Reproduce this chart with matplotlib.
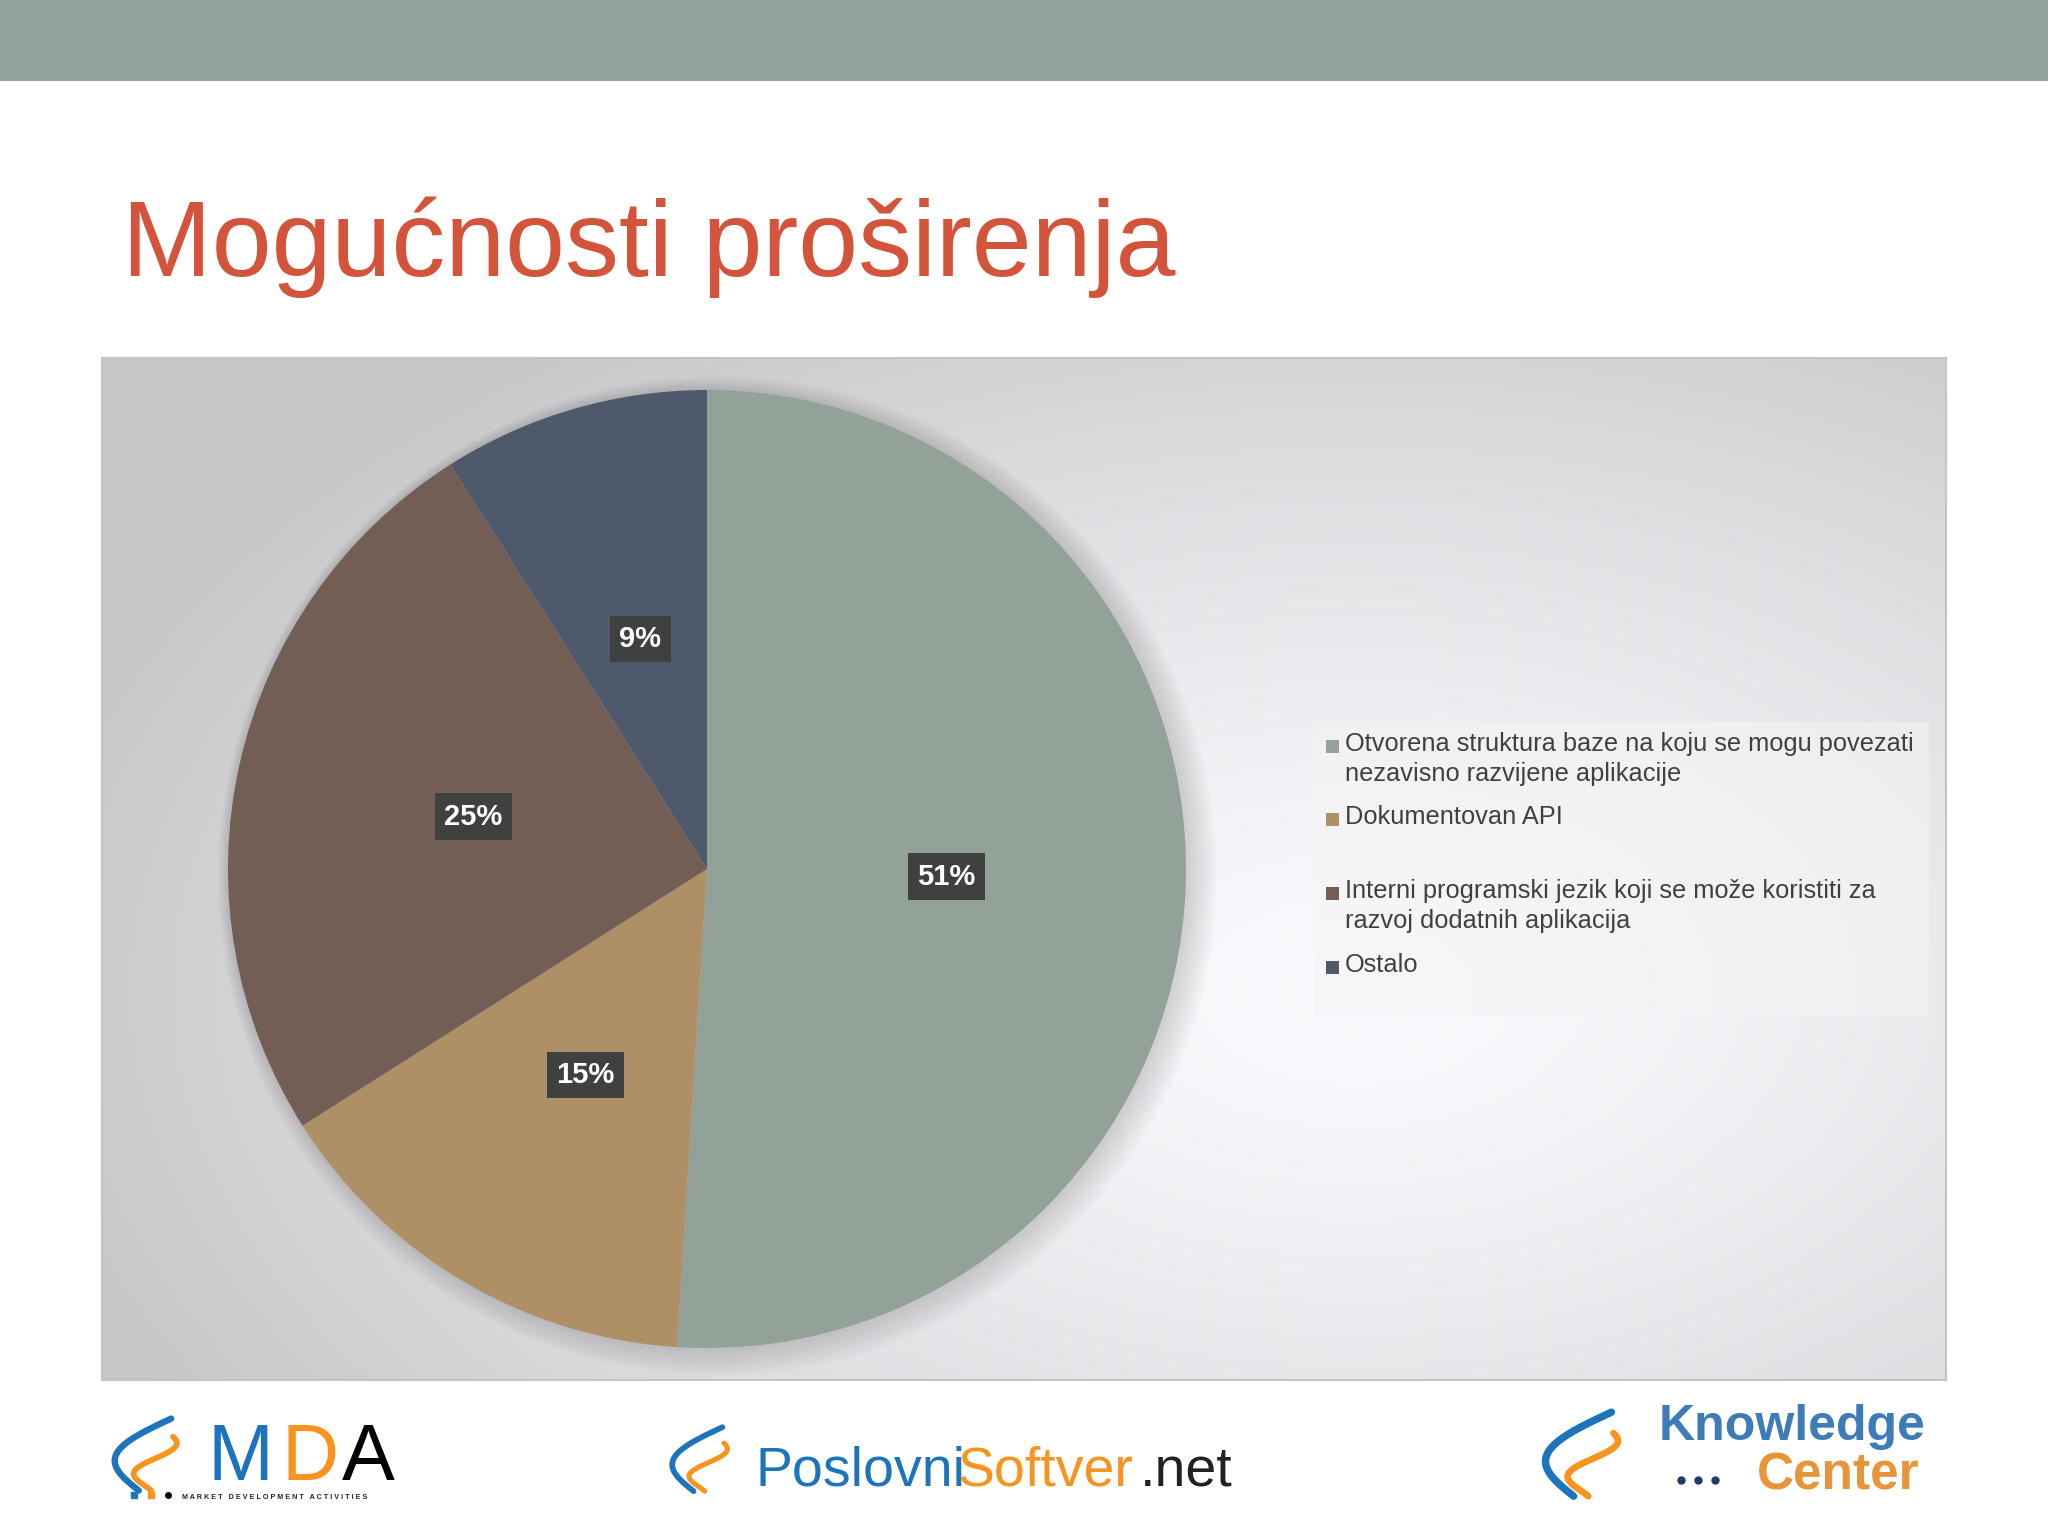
import numpy as np
import matplotlib.pyplot as plt
from matplotlib.patches import Rectangle, Circle

# data
categories = [
    "Otvorena struktura baze na koju se mogu povezati\nnezavisno razvijene aplikacije",
    "Dokumentovan API",
    "Interni programski jezik koji se može koristiti za\nrazvoj dodatnih aplikacija",
    "Ostalo",
]
shares = [51, 15, 25, 9]
colors = ["#93A299", "#AE8F66", "#725E54", "#4E5A6B"]
title = "Mogućnosti proširenja"

W, H = 2048, 1536
plt.rcParams['font.family'] = ['Liberation Sans', 'DejaVu Sans']

fig = plt.figure(figsize=(W / 100, H / 100), dpi=100)
fig.patch.set_facecolor("white")


def box(x0, y0, x1, y1):
    # pixel box (top-left origin) -> figure fraction rect
    return [x0 / W, 1 - y1 / H, (x1 - x0) / W, (y1 - y0) / H]


def fx(x):
    return x / W


def fy(y):
    return 1 - y / H


# top banner
fig.patches.append(Rectangle((0, fy(81)), 1, 81 / H, transform=fig.transFigure,
                             fc="#93A29A", ec="none"))

# title
fig.text(fx(122), fy(276), title, fontsize=77.5, color="#D3543B", va="baseline")

# chart area with radial gradient
bg = fig.add_axes(box(102, 358, 1946, 1380))
gx, gy = np.meshgrid(np.linspace(0, 1, 400), np.linspace(0, 1, 220))
d = np.sqrt(((gx - 0.68) / 0.75) ** 2 + ((gy - 0.62) / 0.8) ** 2)
shade = 1 - 0.21 * np.clip(d, 0, 1) ** 1.3
bg.imshow(np.dstack([shade * 0.985, shade * 0.985, shade]).clip(0, 1),
          aspect="auto", extent=(0, 1, 0, 1), origin="upper", interpolation="bicubic")
bg.set_xlim(0, 1)
bg.set_ylim(0, 1)
bg.set_xticks([])
bg.set_yticks([])
for s in bg.spines.values():
    s.set_edgecolor("#C4C4C4")
    s.set_linewidth(1.5)

# pie
cx, cy, R = 707, 869, 479
m = 1.08
ax = fig.add_axes(box(cx - R * m, cy - R * m, cx + R * m, cy + R * m))
ax.set_facecolor("none")
for k in range(8):
    ax.add_patch(Circle((0.003 * k, -0.002 * k), 1.0 + 0.006 * k, fc="#606060",
                        alpha=0.035, ec="none", zorder=0))
wedges, texts, autotexts = ax.pie(
    shares, colors=colors, startangle=90, counterclock=False, radius=1,
    autopct="%d%%", pctdistance=0.5,
    wedgeprops=dict(linewidth=0),
    textprops=dict(color="white", fontsize=21, fontweight="bold"),
)
for t in autotexts:
    t.set_bbox(dict(boxstyle="square,pad=0.32", fc="#3F413E", ec="none"))
ax.set_xlim(-m, m)
ax.set_ylim(-m, m)
ax.set_aspect("equal")
ax.axis("off")

# legend
fig.patches.append(Rectangle((fx(1314), fy(1016)), (1929 - 1314) / W, (1016 - 722) / H,
                             transform=fig.transFigure, fc="#F4F4F6", ec="none", alpha=0.6))
rows = [746, 819, 893, 967]
for lab, col, yy in zip(categories, colors, rows):
    fig.patches.append(Rectangle((fx(1326), fy(yy + 7)), 13 / W, 13 / H,
                                 transform=fig.transFigure, fc=col, ec="none"))
    fig.text(fx(1345), fy(yy - 14), lab, fontsize=18.3, color="#404040",
             va="top", ha="left", linespacing=1.3)

# footer logos (text approximations, icon drawn as curves)
blue, orange = "#1C75BC", "#F7941D"
deco = fig.add_axes([0, 0, 1, 1], zorder=5)
deco.set_xlim(0, W)
deco.set_ylim(H, 0)
deco.axis("off")
deco.set_facecolor("none")


def icon(x0, y0, s):
    # stylised swoosh mark: blue curve and orange S, scaled from a unit box
    t = np.linspace(0, 1, 60)
    bx = x0 + s * (0.85 - 0.9 * np.sin(np.pi * t) * 0.6 - 0.45 * t)
    by = y0 + s * (0.05 + 1.0 * t)
    deco.plot(bx, by, color=blue, lw=4.5 * s / 70, solid_capstyle="round")
    sx = x0 + s * (0.75 + 0.22 * np.sin(2 * np.pi * t + 0.6) - 0.3 * t)
    sy = y0 + s * (0.3 + 0.75 * t)
    deco.plot(sx, sy, color=orange, lw=4 * s / 70, solid_capstyle="round")


icon(110, 1415, 72)
fig.text(fx(208), fy(1480), "M", fontsize=57, color=blue, va="baseline")
fig.text(fx(282), fy(1480), "D", fontsize=57, color=orange, va="baseline")
fig.text(fx(342), fy(1480), "A", fontsize=57, color="black", va="baseline")
for i, c in enumerate([blue, orange, "black"]):
    deco.plot(134 + 17 * i, 1495, "s" if i < 2 else "o", color=c, ms=4)
fig.text(fx(182), fy(1499), "M A R K E T   D E V E L O P M E N T   A C T I V I T I E S",
         fontsize=5.2, color="#222222", va="baseline", fontweight="bold")

# PoslovniSoftver.net
icon(668, 1424, 64)
fig.text(fx(755), fy(1486), "Poslovni", fontsize=40, color=blue, va="baseline")
fig.text(fx(958), fy(1486), "Softver", fontsize=40, color=orange, va="baseline")
fig.text(fx(1140), fy(1486), ".net", fontsize=40, color="#222222", va="baseline")

# Knowledge Center
icon(1540, 1408, 84)
fig.text(fx(1659), fy(1440), "Knowledge", fontsize=36, color="#3D7CB8", va="baseline",
         fontweight="bold")
for i in range(3):
    deco.plot(1681 + 17 * i, 1480, "o", color="#1F3A6B", ms=5)
fig.text(fx(1757), fy(1490), "Center", fontsize=37, color="#E8943A", va="baseline",
         fontweight="bold")

fig.savefig("out.png", dpi=100, facecolor="white")
